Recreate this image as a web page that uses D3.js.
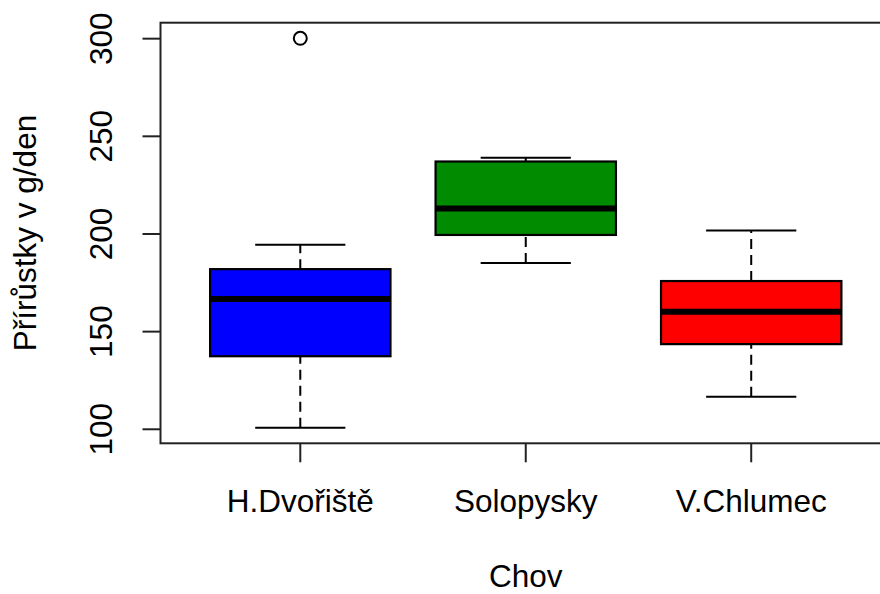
<!DOCTYPE html>
<html>
<head>
<meta charset="utf-8">
<script src="https://cdn.jsdelivr.net/npm/d3@7"></script>
<style>
  html, body { margin: 0; padding: 0; background: #fff; }
  svg { display: block; }
  text { font-family: "Liberation Sans", Arial, sans-serif; fill: #000; }
</style>
</head>
<body>
<svg id="chart" width="880" height="594"></svg>
<script>
// Groups (farms) and their box-and-whisker summaries (g/day)
const categories = ["H.Dvořiště", "Solopysky", "V.Chlumec"];
const whiskerLow  = [100.8, 185.1, 116.6];
const quartile1   = [137.4, 199.5, 143.6];
const medians     = [166.7, 213.1, 160.2];
const quartile3   = [182.0, 237.1, 175.9];
const whiskerHigh = [194.5, 239.0, 201.8];
const outliers    = [[300.2], [], []];
const fills       = ["#0000FF", "#008B00", "#FF0000"];
const yTicks      = [100, 150, 200, 250, 300];
const xTitle = "Chov";
const yTitle = "Přírůstky v g/den";

const svg = d3.select("#chart");
const plot = { left: 160.5, right: 891, top: 22.7, bottom: 443.3 };
const FONT = 31.5;

// y range padded by 4% on each side, as base R does
const allVals = whiskerLow.concat(whiskerHigh, outliers.flat());
const lo = d3.min(allVals), hi = d3.max(allVals), pad = (hi - lo) * 0.04;
const y = d3.scaleLinear().domain([lo - pad, hi + pad]).range([plot.bottom, plot.top]);
const n = categories.length;
const x = d3.scaleLinear().domain([0.5 - 0.04 * n, n + 0.5 + 0.04 * n]).range([plot.left, plot.right]);

const boxW = 0.8, capW = 0.4;
const groups = categories.map((c, i) => ({
  name: c, pos: i + 1, lo: whiskerLow[i], q1: quartile1[i], med: medians[i],
  q3: quartile3[i], hi: whiskerHigh[i], out: outliers[i], fill: fills[i]
}));

const g = svg.append("g");
groups.forEach(d => {
  const cx = x(d.pos);
  const half = (x(d.pos + boxW / 2) - x(d.pos - boxW / 2)) / 2;
  const capHalf = (x(d.pos + capW / 2) - x(d.pos - capW / 2)) / 2;
  // dashed whiskers
  [[d.lo, d.q1], [d.q3, d.hi]].forEach(([a, b]) => {
    g.append("line").attr("x1", cx).attr("x2", cx).attr("y1", y(a)).attr("y2", y(b))
      .attr("stroke", "#000").attr("stroke-width", 2).attr("stroke-dasharray", "10,6");
  });
  // staples
  [d.lo, d.hi].forEach(v => {
    g.append("line").attr("x1", cx - capHalf).attr("x2", cx + capHalf)
      .attr("y1", y(v)).attr("y2", y(v)).attr("stroke", "#000").attr("stroke-width", 2);
  });
  // box
  g.append("rect").attr("x", cx - half).attr("y", y(d.q3))
    .attr("width", 2 * half).attr("height", y(d.q1) - y(d.q3))
    .attr("fill", d.fill).attr("stroke", "#000").attr("stroke-width", 2.2);
  // median
  g.append("line").attr("x1", cx - half).attr("x2", cx + half)
    .attr("y1", y(d.med)).attr("y2", y(d.med)).attr("stroke", "#000").attr("stroke-width", 6);
  // outliers
  d.out.forEach(v => {
    g.append("circle").attr("cx", cx).attr("cy", y(v)).attr("r", 6.5)
      .attr("fill", "none").attr("stroke", "#000").attr("stroke-width", 2);
  });
});

// plot frame
svg.append("rect").attr("x", plot.left).attr("y", plot.top)
  .attr("width", plot.right - plot.left).attr("height", plot.bottom - plot.top)
  .attr("fill", "none").attr("stroke", "#222").attr("stroke-width", 2);

// y axis
const yAxis = svg.append("g");
yTicks.forEach(t => {
  yAxis.append("line").attr("x1", plot.left - 18).attr("x2", plot.left)
    .attr("y1", y(t)).attr("y2", y(t)).attr("stroke", "#222").attr("stroke-width", 2);
  yAxis.append("text")
    .attr("transform", `translate(112,${y(t)}) rotate(-90)`)
    .attr("text-anchor", "middle").attr("font-size", FONT).text(t);
});

// x axis
const xAxis = svg.append("g");
groups.forEach(d => {
  xAxis.append("line").attr("x1", x(d.pos)).attr("x2", x(d.pos))
    .attr("y1", plot.bottom).attr("y2", plot.bottom + 19).attr("stroke", "#222").attr("stroke-width", 2);
  xAxis.append("text")
    .attr("transform", `translate(${x(d.pos)},511.5)`)
    .attr("text-anchor", "middle").attr("font-size", FONT).text(d.name);
});

// axis titles
svg.append("text")
  .attr("transform", `translate(${(plot.left + plot.right) / 2},587)`)
  .attr("text-anchor", "middle").attr("font-size", FONT).text(xTitle);
svg.append("text")
  .attr("transform", `translate(36,${(plot.top + plot.bottom) / 2}) rotate(-90)`)
  .attr("text-anchor", "middle").attr("font-size", FONT).text(yTitle);
</script>
</body>
</html>
